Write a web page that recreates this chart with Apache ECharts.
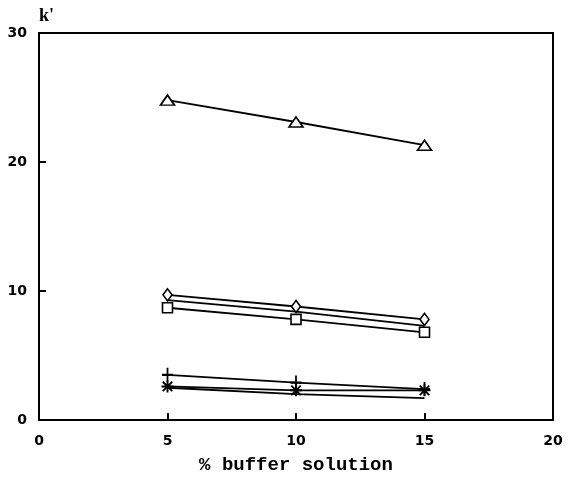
<!DOCTYPE html>
<html>
<head>
<meta charset="utf-8">
<script src="https://cdn.jsdelivr.net/npm/echarts@6/dist/echarts.min.js"></script>
<style>
  html, body { margin: 0; padding: 0; background: #fff; }
  #chart { width: 575px; height: 485px; }
</style>
</head>
<body>
<div id="chart"></div>
<script>
// % buffer solution on the x axis, capacity factor k' on the y axis
const buffer = [5, 10, 15];
const xTicks = [0, 5, 10, 15, 20];
const yTicks = [0, 10, 20, 30];

const kTriangle = [24.8, 23.1, 21.3];
const kDiamond  = [9.7, 8.8, 7.8];
const kMiddle   = [9.3, 8.4, 7.3];
const kSquare   = [8.7, 7.8, 6.8];
const kPlus     = [3.5, 2.9, 2.4];
const kStar     = [2.6, 2.3, 2.3];
const kBottom   = [2.5, 2.0, 1.7];

const PLUS = 'path://M4.2,0H5.8V10H4.2Z M0,4.2H10V5.8H0Z';
const STAR = 'path://M4.2,0H5.8V10H4.2Z M0,4.2H10V5.8H0Z M0.5,1.6L1.6,0.5L9.5,8.4L8.4,9.5Z M8.4,0.5L9.5,1.6L1.6,9.5L0.5,8.4Z';

function pairs(ys) { return buffer.map((x, i) => [x, ys[i]]); }

function line(name, ys, symbol, size, hollow) {
  return {
    name: name,
    type: 'line',
    data: pairs(ys),
    symbol: symbol,
    symbolSize: size,
    showSymbol: symbol !== 'none',
    lineStyle: { color: '#000', width: 1.8 },
    itemStyle: hollow
      ? { color: '#fff', borderColor: '#000', borderWidth: 1.6 }
      : { color: '#000', borderWidth: 0 },
    emphasis: { disabled: true },
    animation: false,
    z: 3
  };
}

const chart = echarts.init(document.getElementById('chart'), null, { renderer: 'canvas' });
chart.setOption({
  backgroundColor: '#fff',
  grid: {
    left: 39, right: 22, top: 33, bottom: 65,
    show: true, borderColor: '#000', borderWidth: 2, backgroundColor: 'transparent'
  },
  xAxis: {
    type: 'value', min: 0, max: 20, interval: 5,
    name: '% buffer solution',
    nameLocation: 'middle', nameGap: 36,
    nameTextStyle: { fontFamily: 'Liberation Mono', fontWeight: 'bold', fontSize: 19, color: '#000' },
    axisLine: { lineStyle: { color: '#000', width: 2 } },
    axisTick: {
      inside: true, length: 7, lineStyle: { color: '#000', width: 2 },
      customValues: xTicks.slice(1, -1)
    },
    axisLabel: {
      margin: 14, color: '#000', fontFamily: 'DejaVu Sans', fontWeight: 'bold', fontSize: 14,
      customValues: xTicks
    },
    splitLine: { show: false }
  },
  yAxis: {
    type: 'value', min: 0, max: 30, interval: 10,
    name: "k'",
    nameLocation: 'end', nameGap: 8,
    nameTextStyle: { fontFamily: 'Liberation Serif', fontWeight: 'bold', fontSize: 18, color: '#000', align: 'left' },
    axisLine: { lineStyle: { color: '#000', width: 2 } },
    axisTick: {
      inside: true, length: 7, lineStyle: { color: '#000', width: 2 },
      customValues: yTicks.slice(1, -1)
    },
    axisLabel: {
      margin: 12, color: '#000', fontFamily: 'DejaVu Sans', fontWeight: 'bold', fontSize: 14,
      customValues: yTicks
    },
    splitLine: { show: false }
  },
  series: [
    line('triangle', kTriangle, 'triangle', [14, 10], true),
    line('diamond', kDiamond, 'diamond', [9, 12], true),
    line('middle', kMiddle, 'none', 0, true),
    line('square', kSquare, 'rect', [10, 10], true),
    line('plus', kPlus, PLUS, [11, 14], false),
    line('star', kStar, STAR, [12, 12], false),
    line('bottom', kBottom, 'none', 0, false)
  ]
});
</script>
</body>
</html>
